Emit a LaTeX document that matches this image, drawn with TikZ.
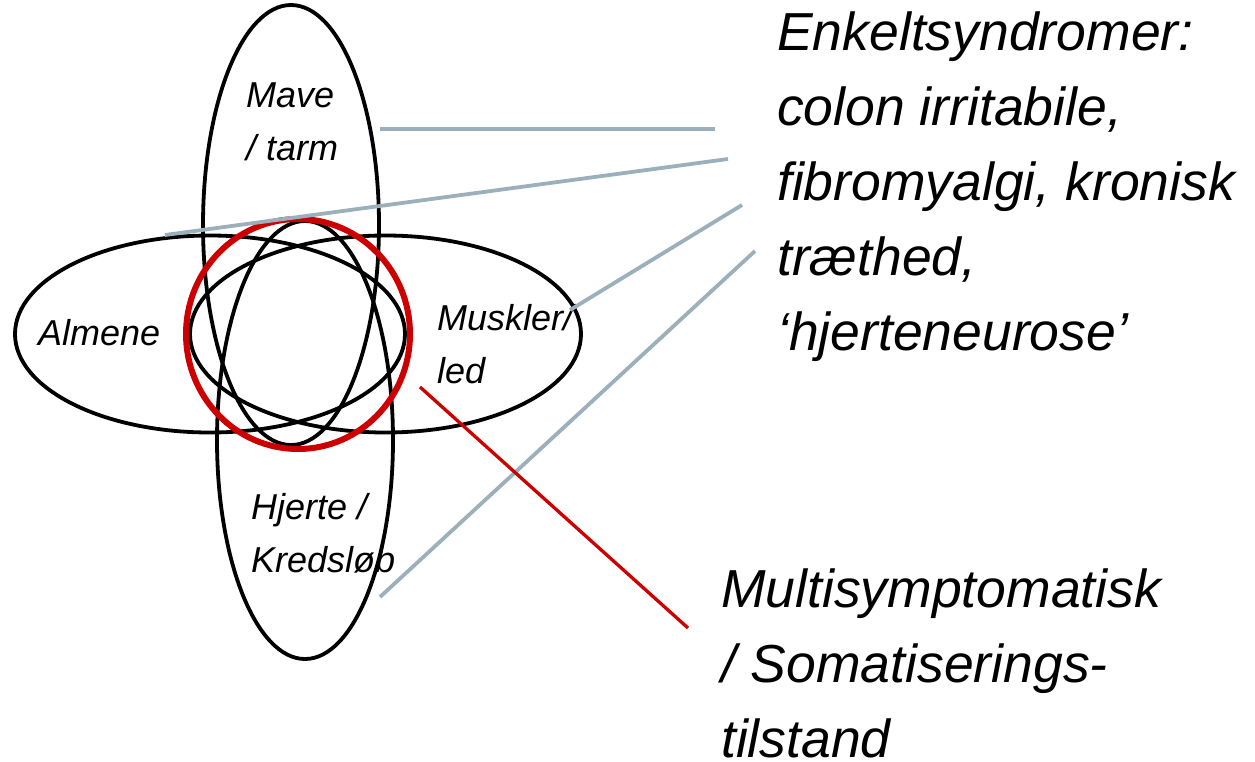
\documentclass[tikz,border=0pt]{standalone}
\usepackage{fontspec}
\setmainfont{Liberation Sans}
\usetikzlibrary{shapes.geometric}
\definecolor{linegray}{RGB}{155,176,187}
\definecolor{redline}{RGB}{204,0,0}
\begin{document}
\begin{tikzpicture}[x=1pt,y=-1pt,
  region/.style={draw=black, line width=3.8pt, ellipse, inner sep=0pt},
  lbl/.style={font=\fontsize{36}{53}\selectfont\itshape, anchor=base west, align=left, inner sep=0pt},
  biglbl/.style={font=\fontsize{53.5}{75}\selectfont\itshape, anchor=base west, align=left, inner sep=0pt},
  pointer/.style={draw=linegray, line width=3.8pt},
  redpointer/.style={draw=redline, line width=3.3pt}]
\useasboundingbox (0,0) rectangle (1255,761);
% regions
\node[region, minimum width=176pt, minimum height=440pt] (mave) at (291,225) {};
\node[region, minimum width=176pt, minimum height=438pt] (hjerte) at (305,440) {};
\node[region, minimum width=390pt, minimum height=197pt] (almene) at (210,334) {};
\node[region, minimum width=391pt, minimum height=197pt] (muskler) at (385.5,334) {};
\node[ellipse, draw=redline, line width=6pt, inner sep=0pt, minimum width=224pt, minimum height=230pt] (multi) at (298,334) {};
% labels (anchored at the baseline of their last line)
\node[lbl] (tmave) at (246,160) {Mave\\/ tarm};
\node[lbl] (talmene) at (38,345) {Almene};
\node[lbl] (tmuskler) at (437,383) {Muskler/\\led};
\node[lbl] (thjerte) at (251,572) {Hjerte /\\Kredsløb};
\node[biglbl] (tenkelt) at (777,350) {Enkeltsyndromer:\\colon irritabile,\\fibromyalgi, kronisk\\træthed,\\‘hjerteneurose’};
\node[biglbl] (tsomat) at (721,757) {Multisymptomatisk\\/ Somatiserings-\\tilstand};
% pointer ends
\coordinate (a1) at (380,129); \coordinate (b1) at (715,129);
\coordinate (a2) at (165,235); \coordinate (b2) at (728,159);
\coordinate (a3) at (570,310); \coordinate (b3) at (742,205);
\coordinate (a4) at (380,597); \coordinate (b4) at (755,251);
\coordinate (a5) at (420,387); \coordinate (b5) at (688,628);
\draw[pointer] (a1) -- (b1);
\draw[pointer] (a2) -- (b2);
\draw[pointer] (a3) -- (b3);
\draw[pointer] (a4) -- (b4);
\draw[redpointer] (a5) -- (b5);
\end{tikzpicture}
\end{document}
